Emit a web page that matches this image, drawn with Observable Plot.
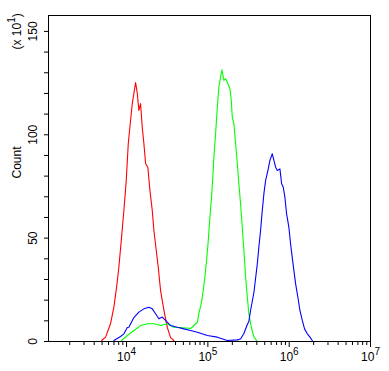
<!DOCTYPE html>
<html>
<head>
<meta charset="utf-8">
<script src="https://cdn.jsdelivr.net/npm/d3@7"></script>
<script src="https://cdn.jsdelivr.net/npm/@observablehq/plot@0.6"></script>
<style>
  html, body { margin: 0; padding: 0; background: #fff; }
</style>
</head>
<body>
<div id="chart"></div>
<script>
// log10 of fluorescence intensity and counts (x10) per series
const redLogX = [3.692,3.742,3.803,3.844,3.877,3.905,3.935,3.967,3.996,4.021,4.049,4.070,4.090,4.111,4.132,4.151,4.172,4.193,4.213,4.234,4.262,4.287,4.316,4.336,4.365,4.390,4.418,4.439,4.467,4.501,4.541,4.582];
const redCount = [0.5,2.1,8.7,16.6,26.3,35.9,48.9,63.4,77.9,95.8,106.9,115.1,120,125.3,120,111.8,115.1,103.5,95.8,86.1,84.2,73.1,63.4,53.7,44,35.8,24.7,19.8,13.5,6.8,1.9,0.5];

const greenLogX = [3.938,4.009,4.090,4.172,4.255,4.336,4.418,4.501,4.582,4.664,4.787,4.870,4.889,4.919,4.943,4.963,4.984,5.005,5.025,5.045,5.061,5.074,5.095,5.116,5.135,5.156,5.172,5.197,5.218,5.239,5.271,5.288,5.300,5.320,5.341,5.362,5.381,5.402,5.423,5.443,5.464,5.485,5.504,5.534,5.566,5.599];
const greenCount = [0.5,2.9,5.3,7.7,8.6,8.6,7.7,8.6,6.9,6.8,6.3,9.2,13.5,18.4,24.7,31.1,39.2,48.9,60.1,69.8,79.5,89.2,100.5,113.4,123,127.9,131.4,126.3,127.1,125.4,122.3,116.6,108.5,105.3,95.6,86,76.3,66.6,55.3,44,31.1,21.4,13.4,6.9,2.1,0.5];

const blueLogX = [3.844,3.926,3.967,4.009,4.028,4.090,4.151,4.213,4.274,4.316,4.357,4.397,4.439,4.480,4.541,4.624,4.705,4.787,4.870,4.993,5.116,5.239,5.362,5.402,5.443,5.485,5.504,5.525,5.566,5.608,5.627,5.648,5.669,5.689,5.710,5.738,5.763,5.792,5.812,5.833,5.854,5.886,5.907,5.927,5.947,5.968,5.996,6.017,6.037,6.058,6.079,6.107,6.132,6.161,6.189,6.223,6.255,6.284];
const blueCount = [0.5,2.4,3.7,6.8,6.9,11.6,14.2,15.8,16.6,15.8,13.4,11,11.8,10.2,7.7,6.9,6.1,5.3,4.5,2.9,2.1,0.5,0.8,1.2,3.9,8.2,9.7,15,23.7,37.6,45.6,53.7,63.4,71.5,77.9,82.7,87.6,90.8,87.6,84.3,82.7,83.5,76.3,74.6,69.8,61.8,55.3,47.3,40.8,34.3,27.9,21.4,15,10.2,6.1,3.7,2.1,0.5];

const seriesNames = ["Series A", "Series B", "Series C"];
const seriesColors = ["#ff0000", "#00ff00", "#0000ff"];

const xMajorTicks = [1e4, 1e5, 1e6, 1e7];
const yLabelTicks = [0, 50, 100, 150];
const yMinorStep = 10;
const xDomain = [1096, 1e7];
const yDomain = [0, 157.7];

function toRows(name, lx, cy) {
  return lx.map((l, i) => ({series: name, x: Math.pow(10, l), y: cy[i]}));
}
const rows = [
  ...toRows(seriesNames[0], redLogX, redCount),
  ...toRows(seriesNames[1], greenLogX, greenCount),
  ...toRows(seriesNames[2], blueLogX, blueCount)
];

const xMinorTicks = [];
for (let d = 3; d <= 6; d++) for (let k = 2; k <= 9; k++) {
  const v = k * Math.pow(10, d);
  if (v >= xDomain[0] && v <= xDomain[1]) xMinorTicks.push(v);
}
const yMinorTicks = d3.range(0, 151, yMinorStep);

const chart = Plot.plot({
  width: 389,
  height: 371,
  marginLeft: 48,
  marginTop: 15,
  marginRight: 19,
  marginBottom: 30,
  style: {fontFamily: "'Liberation Sans', Arial, sans-serif", fontSize: "12px", background: "#fff", color: "#000"},
  x: {type: "log", domain: xDomain, label: null},
  y: {domain: yDomain, label: null},
  color: {type: "ordinal", domain: seriesNames, range: seriesColors},
  marks: [
    Plot.line(rows, {x: "x", y: "y", z: "series", stroke: "series", strokeWidth: 1.1}),
    Plot.frame({stroke: "#000", strokeWidth: 1}),
    Plot.axisX({ticks: xMinorTicks, tickSize: 4, tickFormat: () => "", stroke: "#000", label: null}),
    Plot.axisX({ticks: xMajorTicks, tickSize: 6, tickPadding: 5, tickFormat: d => String(Math.round(Math.log10(d))), fontSize: 12, stroke: "#000", fill: "#000", label: null}),
    Plot.axisY({ticks: yMinorTicks, tickSize: 4, tickFormat: () => "", stroke: "#000", label: null}),
    Plot.text(yLabelTicks, {x: () => xDomain[0], y: d => d, text: d => String(d), rotate: -90, dx: -15, fontSize: 12, fill: "#000"}),
    Plot.text(["Count"], {frameAnchor: "left", dx: -31, rotate: -90, fontSize: 12, fill: "#000"}),
    Plot.text(["(x 10|1)"], {x: () => xDomain[0], y: () => 150, dx: -31, rotate: -90, fontSize: 12, fill: "#000"})
  ]
});

// superscripts
chart.querySelectorAll('g[aria-label="x-axis tick label"] text').forEach(t => {
  const e = t.textContent;
  if (e) t.innerHTML = `10<tspan dy="-6" font-size="10">${e}</tspan>`;
});
chart.querySelectorAll('g[aria-label="text"] text').forEach(t => {
  if (t.textContent === "(x 10|1)") {
    t.innerHTML = `(x 10<tspan dy="-6" font-size="10">1</tspan><tspan dy="6">)</tspan>`;
  }
});

document.getElementById("chart").appendChild(chart);
</script>
</body>
</html>
